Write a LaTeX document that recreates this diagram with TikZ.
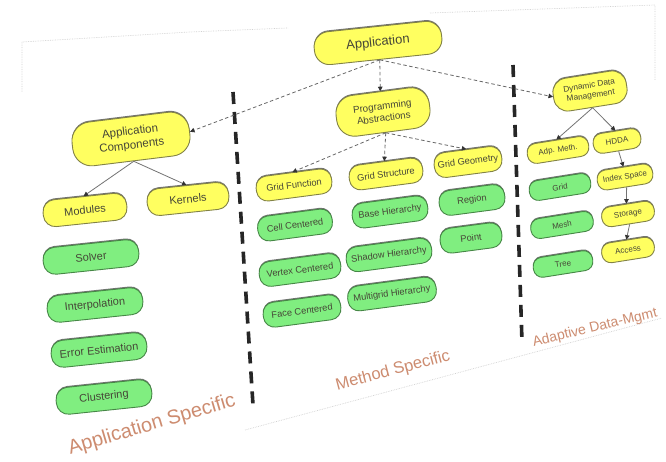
\documentclass[tikz,border=0pt]{standalone}
\usepackage{fontspec}
\setmainfont{Liberation Sans}
\usetikzlibrary{arrows.meta,shadows}
\definecolor{boxyellow}{RGB}{255,255,96}
\definecolor{yellowedge}{RGB}{130,130,70}
\definecolor{boxgreen}{RGB}{128,238,128}
\definecolor{greenedge}{RGB}{70,135,70}
\definecolor{labelbrown}{RGB}{205,140,112}
\definecolor{inktext}{RGB}{70,70,55}
\newcommand{\fs}[1]{\fontsize{#1}{#1}\selectfont}
\newcommand{\fsl}[2]{\fontsize{#1}{#2}\selectfont}
\begin{document}
\begin{tikzpicture}[x=1pt,y=-1pt,
  pill/.style={line width=0.9pt, inner sep=1pt, align=center, text=inktext,
    general shadow={fill=black!55, shadow yshift=1.3pt}},
  ybox/.style={pill, fill=boxyellow, draw=yellowedge},
  gbox/.style={pill, fill=boxgreen, draw=greenedge},
  lcol/.style={rotate=6, minimum width=#1, minimum height=27pt, rounded corners=12pt, font=\fs{11}},
  mcol/.style={rotate=7.5, minimum width=#1, minimum height=25pt, rounded corners=11pt, font=\fs{9.3}},
  rcol/.style={rotate=9, minimum width=#1, minimum height=20pt, rounded corners=9pt, font=\fs{8}},
  tip/.style={-{Triangle[length=4.5pt,width=4.5pt,color=black!80]}},
  dashlink/.style={draw=black!60, line width=0.8pt, dash pattern=on 3.5pt off 2.5pt, tip},
  solidlink/.style={draw=black!55, line width=0.8pt, tip},
  sepline/.style={draw=black!85, line width=3.6pt, dash pattern=on 12pt off 8pt},
  sectionlabel/.style={text=labelbrown, inner sep=0pt},
  frameline/.style={draw=black!18, line width=0.7pt, densely dotted}
]
\useasboundingbox[fill=white] (0,0) rectangle (666,462);

% faint outline of the sheet
\coordinate (f1) at (22,92);
\coordinate (f2) at (22,42);
\coordinate (f3) at (190,32);
\coordinate (f4) at (288,28);
\coordinate (f5) at (430,13);
\coordinate (f6) at (655,5);
\coordinate (f7) at (655,80);
\coordinate (f8) at (245,430);
\coordinate (f9) at (662,318);
\draw[frameline] (f1) -- (f2) -- (f3) -- (f4);
\draw[frameline] (f5) -- (f6) -- (f7);
\draw[frameline] (f8) -- (f9);

% section separators
\coordinate (sepAtop) at (233,92);
\coordinate (sepAbot) at (253,405);
\coordinate (sepBtop) at (513,65);
\coordinate (sepBbot) at (522,342);
\draw[sepline] (sepAtop) -- (sepAbot);
\draw[sepline] (sepBtop) -- (sepBbot);

% top levels
\node[ybox, rotate=6, minimum width=128pt, minimum height=33pt, rounded corners=15pt, font=\fs{13}]
  (app) at (378,43) {Application};
\node[ybox, rotate=7, minimum width=118pt, minimum height=44pt, rounded corners=19pt, font=\fsl{11.5}{14}]
  (appcomp) at (131,139) {Application\\Components};
\node[ybox, rotate=7.5, minimum width=94pt, minimum height=41pt, rounded corners=18pt, font=\fsl{9.8}{12}]
  (prog) at (383,112) {Programming\\Abstractions};
\node[ybox, rotate=9, minimum width=74pt, minimum height=33pt, rounded corners=14pt, font=\fsl{8.3}{10.2}]
  (ddm) at (590,91) {Dynamic Data\\Management};

% application specific column
\node[ybox, lcol=84pt] (modules) at (85,210) {Modules};
\node[ybox, lcol=82pt] (kernels) at (188,199) {Kernels};
\node[gbox, lcol=96pt] (solver) at (91,257) {Solver};
\node[gbox, lcol=96pt] (interp) at (95,305) {Interpolation};
\node[gbox, lcol=96pt] (errest) at (99,350) {Error Estimation};
\node[gbox, lcol=96pt] (clust) at (104,397) {Clustering};

% method specific column
\node[ybox, mcol=76pt] (gf) at (294,185) {Grid Function};
\node[ybox, mcol=74pt] (gs) at (386,174) {Grid Structure};
\node[ybox, mcol=68pt] (gg) at (468,162) {Grid Geometry};
\node[gbox, mcol=75pt] (cc) at (295,225) {Cell Centered};
\node[gbox, mcol=76pt] (bh) at (390,212) {Base Hierarchy};
\node[gbox, mcol=66pt] (region) at (472,200) {Region};
\node[gbox, mcol=82pt] (vc) at (300,270) {Vertex Centered};
\node[gbox, mcol=86pt] (sh) at (389,255) {Shadow Hierarchy};
\node[gbox, mcol=62pt] (point) at (471,238) {Point};
\node[gbox, mcol=78pt] (fc) at (302,311) {Face Centered};
\node[gbox, mcol=89pt] (mh) at (392,294) {Multigrid Hierarchy};

% adaptive data management column
\node[ybox, rcol=62pt] (adp) at (558,150) {Adp. Meth.};
\node[ybox, rcol=48pt] (hdda) at (617,141) {HDDA};
\node[gbox, rcol=62pt] (grid) at (560,187) {Grid};
\node[ybox, rcol=56pt] (index) at (625,177) {Index Space};
\node[gbox, rcol=63pt] (mesh) at (562,225) {Mesh};
\node[ybox, rcol=53pt] (storage) at (628,214) {Storage};
\node[gbox, rcol=60pt] (tree) at (563,264) {Tree};
\node[ybox, rcol=53pt] (access) at (628,250) {Access};

% section labels
\node[sectionlabel, rotate=16.5, font=\fs{20}] (lblapp) at (152,425) {Application Specific};
\node[sectionlabel, rotate=15, font=\fs{16.5}] (lblmeth) at (393,371) {Method Specific};
\node[sectionlabel, rotate=13.5, font=\fs{14}] (lbladm) at (595,328) {Adaptive Data-Mgmt};

% connectors
\draw[dashlink] (app.south) -- (appcomp.east);
\draw[dashlink] (app.south) -- (prog.north);
\draw[dashlink] (app.south) -- (ddm.west);
\draw[solidlink] (appcomp.south) -- (modules.north);
\draw[solidlink] (appcomp.south) -- (kernels.north);
\draw[dashlink] (prog.south) -- (gf.north);
\draw[dashlink] (prog.south) -- (gs.north);
\draw[dashlink] (prog.south) -- (gg.north);
\draw[solidlink] (ddm.south) -- (adp.north);
\draw[solidlink] (ddm.south) -- (hdda.north);
\draw[solidlink] (hdda.south) -- (index.north);
\draw[solidlink] (index.south) -- (storage.north);
\draw[solidlink] (storage.south) -- (access.north);
\end{tikzpicture}
\end{document}
